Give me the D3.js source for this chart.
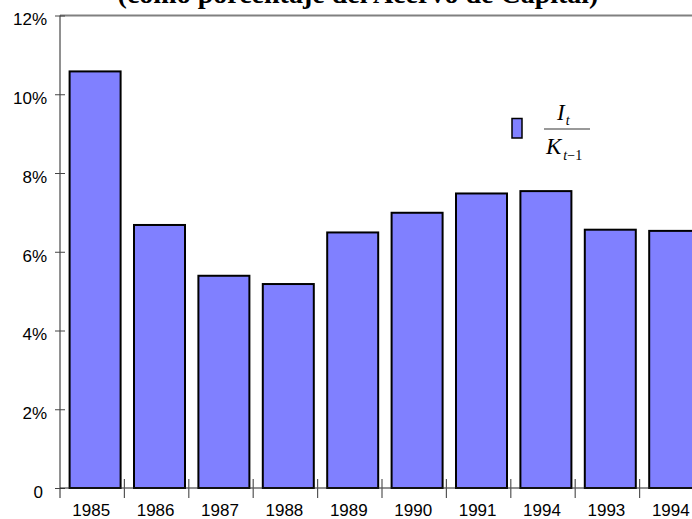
<!DOCTYPE html>
<html>
<head>
<meta charset="utf-8">
<script src="https://cdn.jsdelivr.net/npm/d3@7"></script>
<style>
  html, body { margin: 0; padding: 0; background: #fff; }
  svg { display: block; }
</style>
</head>
<body>
<svg id="chart" width="692" height="519"></svg>
<script>
// Investment over lagged capital stock, by year
const years = ["1985", "1986", "1987", "1988", "1989", "1990", "1991", "1994", "1993", "1994"];
const ratio = [10.58, 6.68, 5.39, 5.18, 6.49, 6.99, 7.48, 7.54, 6.56, 6.53];
const yTicks = [0, 2, 4, 6, 8, 10, 12];
const title = "(como porcentaje del Acervo de Capital)";

const svg = d3.select("#chart");
const plotLeft = 60, plotTop = 15.5, plotBottom = 488, step = 64.4;

const x = d3.scaleBand()
  .domain(d3.range(years.length))
  .range([plotLeft, plotLeft + step * years.length])
  .padding(0);

const y = d3.scaleLinear().domain([0, 12]).range([plotBottom, plotTop]);

// title (runs off the top edge)
svg.append("text")
  .attr("x", 358).attr("y", 3)
  .attr("text-anchor", "middle")
  .attr("font-family", "'Liberation Serif', 'Times New Roman', serif")
  .attr("font-weight", "bold")
  .attr("font-size", 28)
  .text(title);

// plot area top border
svg.append("line")
  .attr("x1", plotLeft).attr("x2", 692)
  .attr("y1", y(12)).attr("y2", y(12))
  .attr("stroke", "#808080").attr("stroke-width", 2);

// bars
const barW = 51, barOff = 9.6;
svg.append("g").selectAll("rect")
  .data(ratio)
  .join("rect")
  .attr("x", (d, i) => x(i) + barOff)
  .attr("width", barW)
  .attr("y", d => y(d))
  .attr("height", d => y(0) - y(d))
  .attr("fill", "#8080ff")
  .attr("stroke", "#000")
  .attr("stroke-width", 2);

// y axis
const yAxis = svg.append("g")
  .attr("transform", `translate(${plotLeft},0)`)
  .call(d3.axisLeft(y).tickValues(yTicks).tickSize(5).tickPadding(8)
    .tickFormat(d => d === 0 ? "0" : d + "%"));
yAxis.select(".domain").attr("stroke", "#222").attr("d", `M0,${y(12)}V${plotBottom + 10}`);
yAxis.selectAll(".tick line").attr("x1", -5).attr("x2", 5).attr("stroke", "#444");
yAxis.selectAll(".tick text")
  .attr("font-family", "'Liberation Sans', Arial, sans-serif")
  .attr("font-size", 17).attr("fill", "#000")
  .attr("dy", "0.55em")
  .attr("dx", d => d === 0 ? -4 : 0);

// x axis
svg.append("line")
  .attr("x1", plotLeft).attr("x2", 692)
  .attr("y1", y(0)).attr("y2", y(0))
  .attr("stroke", "#222").attr("stroke-width", 1);

svg.append("g").selectAll("line")
  .data(d3.range(1, years.length + 1))
  .join("line")
  .attr("x1", i => x.range()[0] + x.step() * i)
  .attr("x2", i => x.range()[0] + x.step() * i)
  .attr("y1", y(0) - 9).attr("y2", y(0) + 10)
  .attr("stroke", "#555").attr("stroke-width", 1.2);

svg.append("g").selectAll("text")
  .data(years)
  .join("text")
  .attr("x", (d, i) => x(i) + x.bandwidth() / 2 - 1)
  .attr("y", 516)
  .attr("text-anchor", "middle")
  .attr("font-family", "'Liberation Sans', Arial, sans-serif")
  .attr("font-size", 17)
  .text(d => d);

// legend: bar swatch with the ratio I_t / K_{t-1}
const lg = svg.append("g");
lg.append("rect")
  .attr("x", 512).attr("y", 118.5).attr("width", 10).attr("height", 19.5)
  .attr("fill", "#8080ff").attr("stroke", "#000").attr("stroke-width", 1.5);
lg.append("line")
  .attr("x1", 544).attr("x2", 590).attr("y1", 129).attr("y2", 129)
  .attr("stroke", "#777").attr("stroke-width", 1.3);
const serif = "'Liberation Serif', 'Times New Roman', serif";
const num = lg.append("text").attr("x", 557).attr("y", 120)
  .attr("font-family", serif).attr("font-style", "italic").attr("font-size", 23);
num.append("tspan").text("I");
num.append("tspan").attr("dy", 5).attr("font-size", 14).attr("dx", 1).text("t");
const den = lg.append("text").attr("x", 546).attr("y", 154)
  .attr("font-family", serif).attr("font-style", "italic").attr("font-size", 23);
den.append("tspan").text("K");
den.append("tspan").attr("dy", 6).attr("dx", 2).attr("font-size", 14).text("t");
den.append("tspan").attr("font-style", "normal").attr("font-size", 14).text("−1");
</script>
</body>
</html>
